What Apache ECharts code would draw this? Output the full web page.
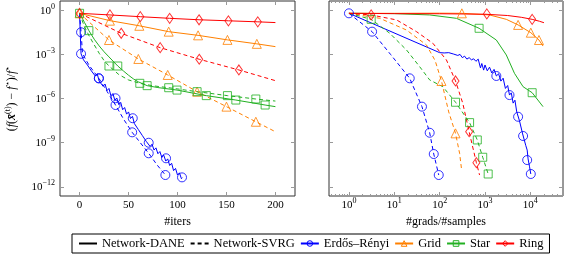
<!DOCTYPE html>
<html><head><meta charset="utf-8">
<script src="https://cdn.jsdelivr.net/npm/echarts@6/dist/echarts.min.js"></script>
<style>html,body{margin:0;padding:0;background:#fff}#c{width:565px;height:256px}</style>
</head><body><div id="c"></div>
<script>
// ---- axis ranges / ticks ----
const iterRange = [-20, 220];
const iterTicks = [0, 50, 100, 150, 200];
const gradExpRange = [-0.44, 4.72];          // log10(#grads/#samples)
const gradTickExps = [0, 1, 2, 3, 4];
const gapExpRange = [-12.63, 0.66];          // log10((f - f*)/f*)
const gapTickExps = [-12, -9, -6, -3, 0];

// ---- data: left panel  [#iters, log10 gap] ----
const erDaneIter = [[0,-0.18],[0.7,-1.6],[1.5,-2.94],[2,-2.95],[4,-3.35],[6,-3.25],[8,-3.7],[10,-3.6],[12,-4.1],[14,-3.98],[16,-4.45],[18,-4.3],[20,-4.8],[22,-4.7],[24,-5.15],[26,-5.0],[28,-5.45],[30,-5.3],[32,-5.8],[34,-5.65],[36,-6.1],[38,-5.95],[40,-6.4],[42,-6.25],[44,-6.75],[46,-6.6],[48,-7.05],[50,-6.9],[52,-7.35],[54,-7.2],[56,-7.7],[58,-7.6],[60,-8.1],[62,-8.0],[64,-8.5],[66,-8.4],[68,-8.9],[70,-8.8],[72,-9.25],[74,-9.1],[76,-9.5],[78,-9.35],[80,-9.75],[82,-9.6],[84,-10.0],[86,-9.85],[88,-10.25],[90,-10.1],[92,-10.55],[94,-10.4],[96,-10.9],[98,-10.75],[100,-11.2],[102,-11.05],[104,-11.45],[105,-11.38]];
const erDaneIterMarks = [[1.5,-2.94],[19.7,-4.61],[36.7,-5.97],[54.3,-7.33],[70.6,-9.0],[88.3,-10.06],[104.6,-11.36]];
const erSvrgIter = [[0,-0.18],[1.5,-1.47],[3,-2.9],[6,-3.3],[10,-3.75],[19.7,-4.61],[28,-5.5],[36.7,-6.43],[45,-7.4],[53.7,-8.29],[62,-9.0],[70.6,-9.72],[79,-10.5],[87.6,-11.2]];
const erSvrgIterMarks = [[1.5,-1.47],[19.7,-4.61],[36.7,-6.43],[53.7,-8.29],[70.6,-9.72],[87.6,-11.2]];
const gridDaneIter = [[0,-0.18],[31,-0.68],[61,-1.03],[91,-1.43],[121,-1.68],[151,-1.99],[181,-2.26],[200,-2.45]];
const gridDaneIterMarks = [[0,-0.18],[31,-0.68],[61,-1.03],[91,-1.43],[121,-1.68],[151,-1.99],[181,-2.26]];
const gridSvrgIter = [[0,-0.18],[30,-2.0],[60,-3.29],[90,-4.38],[120,-5.52],[150,-6.54],[180,-7.57],[200,-8.25]];
const gridSvrgIterMarks = [[30,-2.0],[60,-3.29],[90,-4.38],[120,-5.52],[150,-6.54],[180,-7.57]];
const starDaneIter = [[0,-0.18],[5,-0.8],[9.5,-1.36],[15,-1.95],[20,-2.4],[25,-2.8],[30,-3.15],[39,-3.77],[45,-4.12],[50,-4.4],[55,-4.65],[60,-4.85],[69,-5.11],[80,-5.24],[99.5,-5.41],[129.4,-5.79],[159.6,-6.09],[189.5,-6.43],[200,-6.54]];
const starDaneIterMarks = [[0,-0.18],[9.5,-1.36],[39,-3.77],[69,-5.11],[99.5,-5.41],[129.4,-5.79],[159.6,-6.09],[189.5,-6.43]];
const starSvrgIter = [[0,-0.18],[5,-1.1],[10,-1.75],[14,-2.22],[20,-2.9],[25,-3.4],[30,-3.77],[40,-4.35],[50,-4.72],[61.5,-4.95],[75,-5.12],[91,-5.25],[120,-5.52],[151,-5.79],[180,-6.02],[200,-6.16]];
const starSvrgIterMarks = [[30,-3.77],[61.5,-4.95],[91,-5.25],[120,-5.52],[151,-5.79],[180,-6.02]];
const ringDaneIter = [[0,-0.18],[31,-0.29],[62,-0.41],[92,-0.52],[122,-0.62],[152,-0.69],[182,-0.76],[200,-0.81]];
const ringDaneIterMarks = [[0,-0.18],[31,-0.29],[62,-0.41],[92,-0.52],[122,-0.62],[152,-0.69],[182,-0.76]];
const ringSvrgIter = [[0,-0.18],[42.5,-1.54],[82.3,-2.52],[122.2,-3.31],[162.7,-4.04],[200,-4.77]];
const ringSvrgIterMarks = [[42.5,-1.54],[82.3,-2.52],[122.2,-3.31],[162.7,-4.04]];

// ---- data: right panel  [log10 #grads/#samples, log10 gap] ----
const erDaneGrad = [[0,-0.18],[2.0,-2.86],[2.1,-2.88],[2.2,-2.86],[2.3,-2.95],[2.4,-3.05],[2.45,-2.98],[2.5,-3.2],[2.55,-3.1],[2.6,-3.3],[2.65,-3.2],[2.7,-3.35],[2.75,-3.28],[2.8,-3.45],[2.85,-3.3],[2.9,-3.9],[2.93,-3.6],[2.97,-4.05],[3.0,-3.7],[3.05,-4.1],[3.1,-3.85],[3.15,-4.25],[3.2,-4.0],[3.25,-4.45],[3.3,-4.3],[3.35,-4.8],[3.4,-4.6],[3.45,-5.3],[3.5,-5.1],[3.54,-5.75],[3.58,-5.6],[3.62,-6.3],[3.66,-6.1],[3.7,-6.9],[3.73,-6.8],[3.76,-7.5],[3.8,-7.4],[3.83,-8.4],[3.86,-8.3],[3.9,-9.2],[3.93,-9.5],[3.95,-10.1],[3.98,-10.6],[4.01,-11.13]];
const erDaneGradMarks = [[0,-0.18],[3.25,-4.45],[3.54,-5.75],[3.73,-7.23],[3.84,-8.54],[3.93,-10.18],[4.01,-11.13]];
const erSvrgGrad = [[0,-0.18],[0.51,-1.43],[0.92,-2.99],[1.34,-4.61],[1.61,-6.54],[1.78,-8.32],[1.87,-9.77],[1.98,-11.2]];
const erSvrgGradMarks = [[0.51,-1.43],[1.34,-4.61],[1.61,-6.54],[1.78,-8.32],[1.87,-9.77],[1.98,-11.2]];
const gridDaneGrad = [[0,-0.18],[1,-0.18],[2,-0.17],[2.49,-0.18],[3.1,-0.29],[3.47,-0.59],[3.73,-0.97],[4.01,-1.5],[4.19,-2.0],[4.28,-2.41]];
const gridDaneGradMarks = [[2.49,-0.18],[3.73,-0.97],[4.01,-1.5],[4.19,-2.0]];
const gridSvrgGrad = [[0,-0.18],[0.68,-0.52],[1.27,-1.32],[1.71,-2.34],[1.9,-3.4],[2.04,-4.79],[2.2,-6.9],[2.35,-8.36],[2.44,-9.72],[2.48,-10.74]];
const gridSvrgGradMarks = [[2.04,-4.79],[2.35,-8.36]];
const starDaneGrad = [[0,-0.18],[1,-0.2],[1.78,-0.29],[2.37,-0.52],[2.87,-1.2],[3.25,-2.0],[3.47,-3.02],[3.65,-4.27],[3.84,-5.18],[4.04,-5.59],[4.28,-6.54]];
const starDaneGradMarks = [[2.87,-1.2],[4.04,-5.59]];
const starSvrgGrad = [[0,-0.18],[0.49,-0.59],[0.9,-1.54],[1.27,-2.68],[1.56,-3.82],[1.78,-4.72],[2.07,-5.18],[2.35,-6.24],[2.66,-7.63],[2.83,-8.81],[2.95,-9.99],[3.07,-11.13]];
const starSvrgGradMarks = [[0.49,-0.59],[2.35,-6.24],[2.66,-7.63],[2.83,-8.81],[2.95,-9.99],[3.07,-11.13]];
const ringDaneGrad = [[0,-0.18],[1,-0.2],[2,-0.21],[3,-0.24],[3.5,-0.33],[3.8,-0.45],[4.04,-0.59],[4.2,-0.72],[4.3,-0.82]];
const ringDaneGradMarks = [[3.04,-0.22],[4.04,-0.59]];
const ringSvrgGrad = [[0,-0.18],[0.49,-0.29],[1.05,-0.63],[1.49,-1.43],[1.85,-2.22],[2.15,-3.36],[2.35,-4.79],[2.51,-6.31],[2.65,-8.25],[2.81,-10.36],[2.88,-11.2]];
const ringSvrgGradMarks = [[0.49,-0.29],[2.35,-4.79],[2.65,-8.25],[2.81,-10.36]];

const legendNames = ['Network-DANE', 'Network-SVRG', 'Erdős–Rényi', 'Grid', 'Star', 'Ring'];

// ---- styling ----
const FONT = 'Liberation Serif';
const C = { er: '#0000ff', grid: '#ff8000', star: '#22b022', ring: '#ff0000' };
const SYM = { er: ['circle', 9], grid: ['triangle', 9], star: ['rect', 8], ring: ['diamond', [7, 10]] };
const TICK = '#999';

const pow10 = v => Math.pow(10, v);
const toPts = (arr, logX) => arr.map(p => [logX ? pow10(p[0]) : p[0], pow10(p[1])]);

function lineS(id, data, key, dashed, panel) {
  const logX = panel === 1;
  return { type: 'line', name: id, xAxisIndex: panel === 0 ? 0 : 2, yAxisIndex: panel === 0 ? 0 : 3,
    data: toPts(data, logX), symbol: 'none', showSymbol: false, silent: true, animation: false,
    lineStyle: { color: C[key], width: 1, type: dashed ? [4, 3] : 'solid' }, itemStyle: { color: C[key] }, z: 2 };
}
function markS(id, data, key, panel) {
  const logX = panel === 1;
  return { type: 'scatter', name: id, xAxisIndex: panel === 0 ? 0 : 2, yAxisIndex: panel === 0 ? 0 : 3,
    data: toPts(data, logX), symbol: SYM[key][0], symbolSize: SYM[key][1], silent: true, animation: false,
    itemStyle: { color: 'rgba(0,0,0,0)', borderColor: C[key], borderWidth: 1 }, z: 3 };
}

const richLab = {
  b: { fontSize: 11, lineHeight: 16, fontFamily: FONT, color: '#000' },
  s: { fontSize: 8, lineHeight: 9, verticalAlign: 'top', fontFamily: FONT, color: '#000' }
};
const powLabel = v => '{b|10}{s|' + String(Math.round(v)).replace('-', '−') + '}';

function tickAxis(o) {
  return Object.assign({
    type: 'value', splitLine: { show: false },
    axisLine: { show: false, onZero: false },
    axisTick: { show: true, inside: true, length: 4, lineStyle: { color: TICK, width: 1 } },
    axisLabel: { show: false }
  }, o);
}

const minorGrad = [];
[-1, 0, 1, 2, 3, 4].forEach(n => { for (let k = 2; k <= 9; k++) { const v = n + Math.log10(k); if (v > gradExpRange[0] && v < gradExpRange[1]) minorGrad.push(v); } });

const xAxis = [
  tickAxis({ gridIndex: 0, min: iterRange[0], max: iterRange[1], position: 'bottom',
    axisTick: { show: true, inside: true, length: 4, lineStyle: { color: TICK, width: 1 }, customValues: iterTicks },
    axisLabel: { show: true, customValues: iterTicks, margin: 1, formatter: v => '{b|' + v + '}', rich: richLab },
    name: '#iters', nameLocation: 'middle', nameGap: 16,
    nameTextStyle: { fontFamily: FONT, fontSize: 12, color: '#000' } }),
  tickAxis({ gridIndex: 0, min: iterRange[0], max: iterRange[1], position: 'top',
    axisTick: { show: true, inside: true, length: 4, lineStyle: { color: TICK, width: 1 }, customValues: iterTicks } }),
  { type: 'log', logBase: 10, gridIndex: 1, min: pow10(gradExpRange[0]), max: pow10(gradExpRange[1]), show: false,
    axisLine: { onZero: false }, splitLine: { show: false } },
  tickAxis({ gridIndex: 1, min: gradExpRange[0], max: gradExpRange[1], position: 'bottom',
    axisTick: { show: true, inside: true, length: 4, lineStyle: { color: TICK, width: 1 }, customValues: gradTickExps },
    axisLabel: { show: true, customValues: gradTickExps, margin: 1, formatter: powLabel, rich: richLab },
    name: '#grads/#samples', nameLocation: 'middle', nameGap: 16,
    nameTextStyle: { fontFamily: FONT, fontSize: 12, color: '#000' } }),
  tickAxis({ gridIndex: 1, min: gradExpRange[0], max: gradExpRange[1], position: 'bottom',
    axisTick: { show: true, inside: true, length: 2, lineStyle: { color: TICK, width: 1 }, customValues: minorGrad } }),
  tickAxis({ gridIndex: 1, min: gradExpRange[0], max: gradExpRange[1], position: 'top',
    axisTick: { show: true, inside: true, length: 4, lineStyle: { color: TICK, width: 1 }, customValues: gradTickExps } }),
  tickAxis({ gridIndex: 1, min: gradExpRange[0], max: gradExpRange[1], position: 'top',
    axisTick: { show: true, inside: true, length: 2, lineStyle: { color: TICK, width: 1 }, customValues: minorGrad } })
];

const yName = '{n|(}{i|f}{n|(}{x|x̄}{s|(t)}{n|) − }{i|f}{s|⋆}{n|)/}{i|f}{s|⋆}';
const yAxis = [
  { type: 'log', logBase: 10, gridIndex: 0, min: pow10(gapExpRange[0]), max: pow10(gapExpRange[1]), show: false,
    axisLine: { onZero: false }, splitLine: { show: false } },
  tickAxis({ gridIndex: 0, min: gapExpRange[0], max: gapExpRange[1], position: 'left',
    axisTick: { show: true, inside: true, length: 4, lineStyle: { color: TICK, width: 1 }, customValues: gapTickExps },
    axisLabel: { show: true, customValues: gapTickExps, margin: 5, formatter: powLabel, rich: richLab },
    name: yName, nameLocation: 'middle', nameRotate: 90, nameGap: 40,
    nameTextStyle: { rich: {
      n: { fontFamily: FONT, fontSize: 12, color: '#000', lineHeight: 16 },
      i: { fontFamily: FONT, fontSize: 12, fontStyle: 'italic', color: '#000', lineHeight: 16 },
      x: { fontFamily: FONT, fontSize: 12, fontStyle: 'italic', fontWeight: 'bold', color: '#000', lineHeight: 16 },
      s: { fontFamily: FONT, fontSize: 8, color: '#000', lineHeight: 9, verticalAlign: 'top' } } } }),
  tickAxis({ gridIndex: 0, min: gapExpRange[0], max: gapExpRange[1], position: 'right',
    axisTick: { show: true, inside: true, length: 4, lineStyle: { color: TICK, width: 1 }, customValues: gapTickExps } }),
  { type: 'log', logBase: 10, gridIndex: 1, min: pow10(gapExpRange[0]), max: pow10(gapExpRange[1]), show: false,
    axisLine: { onZero: false }, splitLine: { show: false } },
  tickAxis({ gridIndex: 1, min: gapExpRange[0], max: gapExpRange[1], position: 'left',
    axisTick: { show: true, inside: true, length: 4, lineStyle: { color: TICK, width: 1 }, customValues: gapTickExps } }),
  tickAxis({ gridIndex: 1, min: gapExpRange[0], max: gapExpRange[1], position: 'right',
    axisTick: { show: true, inside: true, length: 4, lineStyle: { color: TICK, width: 1 }, customValues: gapTickExps } })
];

const series = [
  lineS('er-dane-i', erDaneIter, 'er', false, 0), lineS('er-svrg-i', erSvrgIter, 'er', true, 0),
  lineS('grid-dane-i', gridDaneIter, 'grid', false, 0), lineS('grid-svrg-i', gridSvrgIter, 'grid', true, 0),
  lineS('star-dane-i', starDaneIter, 'star', false, 0), lineS('star-svrg-i', starSvrgIter, 'star', true, 0),
  lineS('ring-dane-i', ringDaneIter, 'ring', false, 0), lineS('ring-svrg-i', ringSvrgIter, 'ring', true, 0),
  markS('er-dane-im', erDaneIterMarks, 'er', 0), markS('er-svrg-im', erSvrgIterMarks, 'er', 0),
  markS('grid-dane-im', gridDaneIterMarks, 'grid', 0), markS('grid-svrg-im', gridSvrgIterMarks, 'grid', 0),
  markS('star-dane-im', starDaneIterMarks, 'star', 0), markS('star-svrg-im', starSvrgIterMarks, 'star', 0),
  markS('ring-dane-im', ringDaneIterMarks, 'ring', 0), markS('ring-svrg-im', ringSvrgIterMarks, 'ring', 0),

  lineS('er-dane-g', erDaneGrad, 'er', false, 1), lineS('er-svrg-g', erSvrgGrad, 'er', true, 1),
  lineS('grid-dane-g', gridDaneGrad, 'grid', false, 1), lineS('grid-svrg-g', gridSvrgGrad, 'grid', true, 1),
  lineS('star-dane-g', starDaneGrad, 'star', false, 1), lineS('star-svrg-g', starSvrgGrad, 'star', true, 1),
  lineS('ring-dane-g', ringDaneGrad, 'ring', false, 1), lineS('ring-svrg-g', ringSvrgGrad, 'ring', true, 1),
  markS('er-dane-gm', erDaneGradMarks, 'er', 1), markS('er-svrg-gm', erSvrgGradMarks, 'er', 1),
  markS('grid-dane-gm', gridDaneGradMarks, 'grid', 1), markS('grid-svrg-gm', gridSvrgGradMarks, 'grid', 1),
  markS('star-dane-gm', starDaneGradMarks, 'star', 1), markS('star-svrg-gm', starSvrgGradMarks, 'star', 1),
  markS('ring-dane-gm', ringDaneGradMarks, 'ring', 1), markS('ring-svrg-gm', ringSvrgGradMarks, 'ring', 1)
];

const legendDefs = [
  [legendNames[0], '#000', 'solid', 'none'], [legendNames[1], '#000', [4, 3], 'none'],
  [legendNames[2], C.er, 'solid', 'circle'], [legendNames[3], C.grid, 'solid', 'triangle'],
  [legendNames[4], C.star, 'solid', 'rect'], [legendNames[5], C.ring, 'solid', 'diamond']
];
legendDefs.forEach(d => series.push({ type: 'line', name: d[0], data: [], xAxisIndex: 0, yAxisIndex: 0,
  symbol: d[3], lineStyle: { color: d[1], width: 1, type: d[2] },
  itemStyle: { color: 'rgba(0,0,0,0)', borderColor: d[3] === 'none' ? 'rgba(0,0,0,0)' : d[1], borderWidth: 1 } }));

const chart = echarts.init(document.getElementById('c'), null, { renderer: 'canvas' });
chart.setOption({
  animation: false,
  backgroundColor: '#fff',
  textStyle: { fontFamily: FONT },
  grid: [
    { left: 60, top: 1, width: 235, height: 195, show: true, borderColor: '#333', borderWidth: 1, backgroundColor: 'rgba(0,0,0,0)', containLabel: false, outerBoundsMode: 'none' },
    { left: 329, top: 1, width: 234, height: 195, show: true, borderColor: '#333', borderWidth: 1, backgroundColor: 'rgba(0,0,0,0)', containLabel: false, outerBoundsMode: 'none' }
  ],
  xAxis, yAxis,
  legend: {
    data: legendNames, left: 72, top: 234, orient: 'horizontal',
    itemWidth: 18, itemHeight: 7, itemGap: 5, padding: [3, 6],
    borderColor: '#000', borderWidth: 1, selectedMode: false,
    itemStyle: { borderWidth: 1 },
    textStyle: { fontFamily: FONT, fontSize: 12.5, color: '#000' }
  },
  series
});
</script></body></html>
